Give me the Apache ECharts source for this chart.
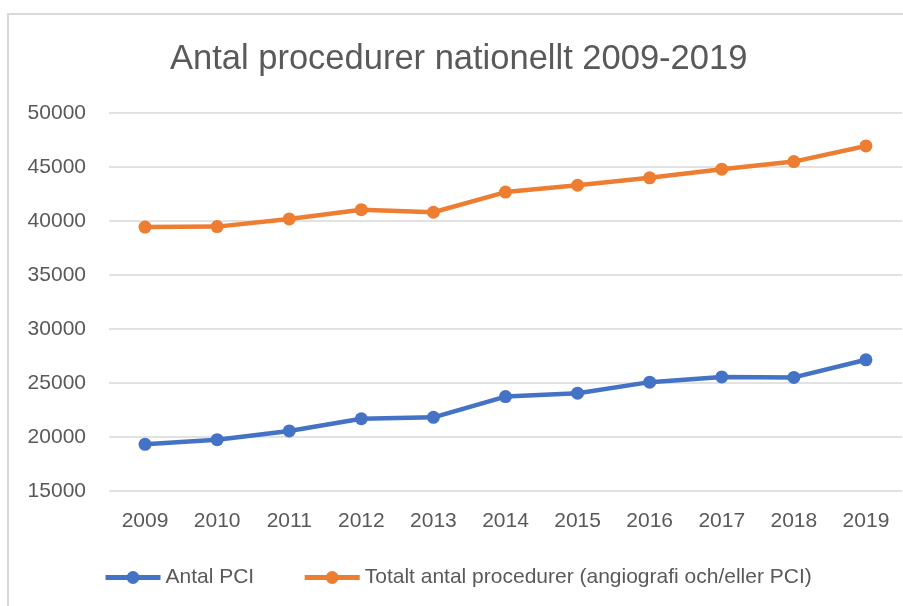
<!DOCTYPE html>
<html>
<head>
<meta charset="utf-8">
<title>Antal procedurer nationellt 2009-2019</title>
<script src="https://cdn.jsdelivr.net/npm/echarts@6/dist/echarts.min.js"></script>
<style>
  html, body { margin: 0; padding: 0; background: #fff; }
  #chart { width: 903px; height: 606px; }
</style>
</head>
<body>
<div id="chart"></div>
<script>
const years = ['2009', '2010', '2011', '2012', '2013', '2014', '2015', '2016', '2017', '2018', '2019']
const antalPci = [19320, 19750, 20560, 21690, 21820, 23740, 24060, 25080, 25560, 25520, 27150]
const totaltAntal = [39440, 39480, 40190, 41050, 40810, 42680, 43310, 44000, 44800, 45500, 46950]

const textColor = '#595959'
const font = '"Liberation Sans", Arial, sans-serif'

const chart = echarts.init(document.getElementById('chart'))

chart.setOption({
  backgroundColor: '#fff',
  textStyle: { fontFamily: font },
  title: {
    text: 'Antal procedurer nationellt 2009-2019',
    left: 170,
    top: 42,
    padding: 0,
    textStyle: { color: textColor, fontSize: 34.5, fontWeight: 'normal', fontFamily: font }
  },
  // chart area border, only the left and top edges show
  graphic: [{
    type: 'rect',
    shape: { x: 8, y: 14, width: 1000, height: 700 },
    style: { fill: 'none', stroke: '#d9d9d9', lineWidth: 2 },
    silent: true
  }],
  legend: {
    left: 103,
    top: 567,
    padding: 0,
    itemWidth: 55,
    itemHeight: 16,
    itemGap: 48,
    lineStyle: { width: 5 },
    textStyle: { color: textColor, fontSize: 21, fontFamily: font },
    data: ['Antal PCI', 'Totalt antal procedurer (angiografi och/eller PCI)']
  },
  grid: {
    top: 113,
    left: 109,
    right: 1,
    bottom: 115,
    containLabel: false
  },
  xAxis: {
    type: 'category',
    data: years,
    boundaryGap: true,
    axisLine: { show: false },
    axisTick: { show: false },
    axisLabel: { color: textColor, fontSize: 21, margin: 20, fontFamily: font }
  },
  yAxis: {
    type: 'value',
    min: 15000,
    max: 50000,
    interval: 5000,
    axisLine: { show: false },
    axisTick: { show: false },
    axisLabel: {
      color: textColor,
      fontSize: 21,
      margin: 23,
      fontFamily: font,
      formatter: v => String(v)
    },
    splitLine: { lineStyle: { color: '#d9d9d9', width: 1.5 } }
  },
  series: [{
    name: 'Antal PCI',
    type: 'line',
    data: antalPci,
    color: '#4472C4',
    symbol: 'circle',
    symbolSize: 13,
    lineStyle: { width: 4.5, color: '#4472C4' },
    itemStyle: { color: '#4472C4' }
  }, {
    name: 'Totalt antal procedurer (angiografi och/eller PCI)',
    type: 'line',
    data: totaltAntal,
    color: '#ED7D31',
    symbol: 'circle',
    symbolSize: 13,
    lineStyle: { width: 4.5, color: '#ED7D31' },
    itemStyle: { color: '#ED7D31' }
  }]
})
</script>
</body>
</html>
